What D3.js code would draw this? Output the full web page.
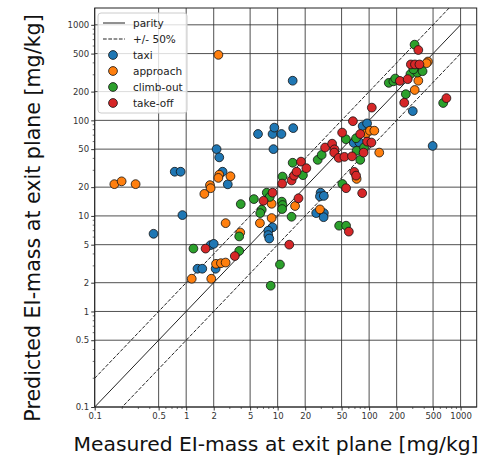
<!DOCTYPE html>
<html>
<head>
<meta charset="utf-8">
<script src="https://cdn.jsdelivr.net/npm/d3@7"></script>
<style>
  body { margin: 0; background: #fff; }
  svg { display: block; font-family: "DejaVu Sans", sans-serif; }
</style>
</head>
<body>
<svg id="chart" width="479" height="461"></svg>
<script>
// measured (x) vs predicted (y), mg/kg
const taxi = [
  [0.44, 6.5], [0.75, 29], [0.87, 29], [0.91, 10.2], [2.15, 50], [2.3, 41],
  [2.5, 29], [2.85, 21.4], [1.85, 4.95], [2.0, 5.1], [1.33, 2.8], [1.5, 2.8],
  [2.1, 2.8], [6.1, 72], [8.8, 72], [9.2, 84], [11, 72], [14.8, 83], [9.0, 50],
  [14.6, 260], [8.8, 7.6], [7.9, 7.0], [7.9, 6.3], [8.1, 5.8], [29.5, 17.5],
  [29, 16], [32, 16.2], [26.4, 10.7], [32, 10.7], [31.8, 9.7], [85, 87], [95, 93],
  [68, 58], [78, 59], [300, 125], [495, 54]
];
const approach = [
  [0.164, 21.5], [0.197, 23], [0.28, 21.5], [2.25, 485], [2.3, 27], [2.25, 25],
  [3.05, 26], [1.82, 21], [1.85, 19.5], [1.58, 17], [2.7, 8.4], [3.9, 6.7],
  [2.12, 3.15], [2.4, 3.2], [2.7, 3.25], [1.15, 2.2], [1.88, 2.2], [8.6, 13.4],
  [8.6, 9.5], [6.4, 8.4], [15.5, 12.7], [29, 11.7], [73, 24.4], [129, 46],
  [93, 73], [102, 78], [114, 78], [345, 260], [315, 208], [440, 413], [425, 397]
];
const climbOut = [
  [1.2, 4.55], [3.8, 6.1], [3.8, 4.3], [3.95, 13.3], [5.5, 15], [6.7, 11.6],
  [6.45, 10.7], [7.6, 17.5], [8.2, 15.8], [11.1, 14.1], [11.3, 13], [11.2, 11.8],
  [14.2, 9.8], [10.6, 3.1], [8.4, 1.86], [11.3, 25.8], [14.6, 36], [18.9, 26.7],
  [27.4, 38.6], [30.3, 43.5], [55.7, 63.5], [72, 65], [73, 48], [88, 52],
  [80, 38.6], [51, 21.6], [47, 7.9], [56, 7.9], [164, 247], [184, 256], [193, 274],
  [252, 188], [283, 305], [337, 316], [384, 327], [305, 342], [314, 620], [645, 152]
];
const takeOff = [
  [1.63, 4.55], [3.4, 3.8], [7.0, 14.4], [8.8, 17.5], [11.2, 21.8], [14.2, 23.5],
  [15.1, 26.4], [16.1, 29], [18, 37], [20.6, 31.6], [16.9, 15.3], [13.4, 5.0],
  [33, 52], [39.4, 57], [41.8, 49.7], [41.5, 46], [46.5, 40.5], [53.7, 41.5],
  [65, 42], [50.7, 74.5], [66.5, 98], [80, 72], [95, 60], [106, 58.6], [87, 46],
  [68.7, 28.9], [72, 26.4], [56, 19.5], [84, 17.3], [60, 6.85], [107, 136],
  [217, 259], [264, 270], [286, 385], [317, 385], [355, 385], [345, 545],
  [242, 153], [700, 171]
];

const series = [
  { name: 'taxi', color: '#1f77b4', data: taxi },
  { name: 'approach', color: '#ff7f0e', data: approach },
  { name: 'climb-out', color: '#2ca02c', data: climbOut },
  { name: 'take-off', color: '#d62728', data: takeOff }
];

const tickVals = [0.1, 0.5, 1, 2, 5, 10, 20, 50, 100, 200, 500, 1000];
const domain = [0.1, 1500];

const svg = d3.select('#chart');
const pL = 94.7, pR = 476.7, pT = 8, pB = 407;

const x = d3.scaleLog().domain(domain).range([pL, pR]);
const y = d3.scaleLog().domain(domain).range([pB, pT]);

// minor ticks between the labelled ones
let minor = [];
[0.1, 1, 10, 100, 1000].forEach(d => {
  [2, 3, 4, 5, 6, 7, 8, 9].forEach(k => {
    const v = +(k * d).toPrecision(3);
    if (v <= domain[1] && !tickVals.includes(v)) minor.push(v);
  });
});

svg.append('defs').append('clipPath').attr('id', 'clip')
  .append('rect')
  .attr('x', pL).attr('y', pT)
  .attr('width', pR - pL).attr('height', pB - pT);

// grid
const grid = svg.append('g');
grid.selectAll('.gx').data(tickVals).join('line')
  .attr('class', 'gx')
  .attr('x1', d => x(d)).attr('x2', d => x(d))
  .attr('y1', pT).attr('y2', pB)
  .attr('stroke', '#333').attr('stroke-width', 1).attr('opacity', 0.85);
grid.selectAll('.gy').data(tickVals).join('line')
  .attr('class', 'gy')
  .attr('y1', d => y(d)).attr('y2', d => y(d))
  .attr('x1', pL).attr('x2', pR)
  .attr('stroke', '#333').attr('stroke-width', 1).attr('opacity', 0.85);

// axes
const xAxis = d3.axisBottom(x).tickValues(tickVals).tickFormat(d => d).tickSize(3.5).tickPadding(2);
const yAxis = d3.axisLeft(y).tickValues(tickVals).tickFormat(d => d).tickSize(3.5).tickPadding(2);

const xAxisG = svg.append('g').attr('transform', `translate(0,${pB})`).call(xAxis);
const yAxisG = svg.append('g').attr('transform', `translate(${pL},0)`).call(yAxis);

[xAxisG, yAxisG].forEach(g => {
  g.select('.domain').remove();
  g.selectAll('line').attr('stroke', '#333');
  g.selectAll('text').attr('fill', '#333').style('font-size', '8.5px')
    .style('font-family', '"DejaVu Sans", sans-serif');
});

svg.append('g').selectAll('line').data(minor).join('line')
  .attr('x1', d => x(d)).attr('x2', d => x(d))
  .attr('y1', pB).attr('y2', pB + 2)
  .attr('stroke', '#333').attr('stroke-width', 0.7);
svg.append('g').selectAll('line').data(minor).join('line')
  .attr('y1', d => y(d)).attr('y2', d => y(d))
  .attr('x1', pL).attr('x2', pL - 2)
  .attr('stroke', '#333').attr('stroke-width', 0.7);

// reference lines
const plot = svg.append('g').attr('clip-path', 'url(#clip)');
const lineX = [0.1, 1000];
const refLines = [
  { f: 1, dash: null },
  { f: 2, dash: '3.7,1.6' },
  { f: 0.5, dash: '3.7,1.6' }
];
refLines.forEach(r => {
  plot.append('line')
    .attr('x1', x(lineX[0])).attr('y1', y(lineX[0] * r.f))
    .attr('x2', x(lineX[1])).attr('y2', y(lineX[1] * r.f))
    .attr('stroke', '#222').attr('stroke-width', 1)
    .attr('stroke-dasharray', r.dash);
});

// points
series.forEach(s => {
  plot.append('g').selectAll('circle').data(s.data).join('circle')
    .attr('cx', d => x(d[0]))
    .attr('cy', d => y(d[1]))
    .attr('r', 4.4)
    .attr('fill', s.color)
    .attr('stroke', '#111')
    .attr('stroke-width', 0.8);
});

// frame
svg.append('rect')
  .attr('x', pL).attr('y', pT)
  .attr('width', pR - pL).attr('height', pB - pT)
  .attr('fill', 'none').attr('stroke', '#222').attr('stroke-width', 1);

// legend
const lg = svg.append('g');
lg.append('rect')
  .attr('x', 98).attr('y', 13).attr('width', 89).attr('height', 100).attr('rx', 3)
  .attr('fill', '#fff').attr('fill-opacity', 0.8)
  .attr('stroke', '#ccc').attr('stroke-width', 1);
const legendItems = [
  { name: 'parity', type: 'line', dash: null },
  { name: '+/- 50%', type: 'line', dash: '3.7,1.6' }
].concat(series.map(s => ({ name: s.name, type: 'dot', color: s.color })));
legendItems.forEach((it, i) => {
  const cy = 23 + i * 16;
  if (it.type === 'line') {
    lg.append('line').attr('x1', 103).attr('x2', 125).attr('y1', cy).attr('y2', cy)
      .attr('stroke', '#222').attr('stroke-width', 1).attr('stroke-dasharray', it.dash);
  } else {
    lg.append('circle').attr('cx', 113).attr('cy', cy).attr('r', 4.4)
      .attr('fill', it.color).attr('stroke', '#111').attr('stroke-width', 0.8);
  }
  lg.append('text').attr('x', 133).attr('y', cy + 3.8)
    .attr('fill', '#222').style('font-size', '10.5px').text(it.name);
});

// titles
svg.append('text')
  .attr('x', 276).attr('y', 451)
  .attr('text-anchor', 'middle')
  .attr('fill', '#111')
  .style('font-size', '20.3px')
  .text('Measured EI-mass at exit plane [mg/kg]');

svg.append('text')
  .attr('transform', 'translate(40,218) rotate(-90)')
  .attr('text-anchor', 'middle')
  .attr('fill', '#111')
  .style('font-size', '20.6px')
  .text('Predicted EI-mass at exit plane [mg/kg]');
</script>
</body>
</html>
